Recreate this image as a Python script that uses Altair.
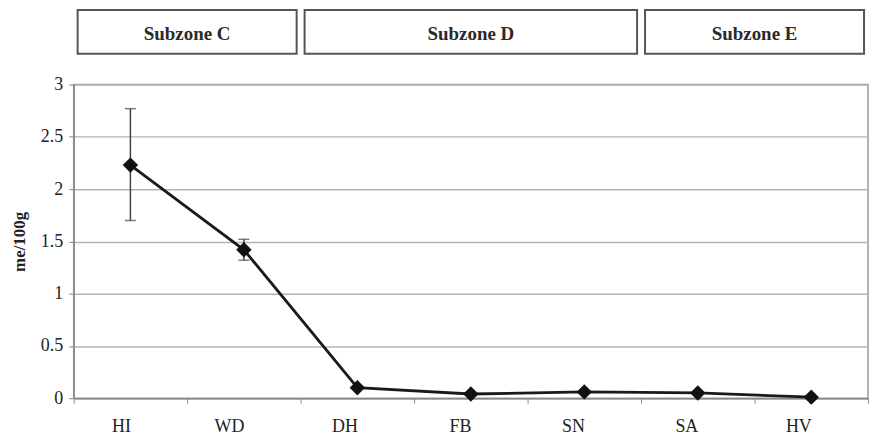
import altair as alt
import pandas as pd

# data
sites = ["HI", "WD", "DH", "FB", "SN", "SA", "HV"]
values = [2.23, 1.42, 0.10, 0.04, 0.06, 0.05, 0.01]
err_low = [1.70, 1.32, None, None, None, None, None]
err_high = [2.77, 1.52, None, None, None, None, None]

subzones = ["Subzone C", "Subzone D", "Subzone E"]
subzone_start = [0, 2, 5]   # index of first site in zone
subzone_end = [2, 5, 7]     # index after last site in zone

y_ticks = [0, 0.5, 1, 1.5, 2, 2.5, 3]

FONT = "Liberation Serif"
W = 798

df = pd.DataFrame({"site": sites, "value": values, "lo": err_low, "hi": err_high})
zones = pd.DataFrame({"zone": subzones, "start": subzone_start, "end": subzone_end})
zones["mid"] = (zones["start"] + zones["end"]) / 2

xq = alt.Scale(domain=[0, 7], nice=False, zero=False)

header_box = alt.Chart(zones).mark_rect(
    fill="white", stroke="#555555", strokeWidth=2, xOffset=4, x2Offset=-4
).encode(
    x=alt.X("start:Q", scale=xq, axis=None),
    x2="end:Q",
    y=alt.value(0),
    y2=alt.value(44),
)
header_text = alt.Chart(zones).mark_text(
    font=FONT, fontSize=19, fontWeight="bold", color="#2a2a2a", baseline="middle"
).encode(
    x=alt.X("mid:Q", scale=xq, axis=None),
    y=alt.value(24),
    text="zone:N",
)
header = alt.layer(header_box, header_text).properties(
    width=W, height=44, view=alt.ViewBackground(stroke=None)
)

xs = alt.X(
    "site:N",
    sort=sites,
    scale=alt.Scale(type="band", paddingInner=0, paddingOuter=0),
    axis=alt.Axis(
        title=None, labelAngle=0, labelFont=FONT, labelFontSize=18, labelColor="#222222",
        labelPadding=23, tickBand="extent", tickSize=5, tickColor="#888888",
        domainColor="#888888", domainWidth=1.5, grid=False,
    ),
)
ys = alt.Y(
    "value:Q",
    scale=alt.Scale(domain=[0, 3], nice=False),
    axis=alt.Axis(
        title="me/100g", titleFont=FONT, titleFontSize=17, titleFontWeight="bold",
        titleColor="#222222", titlePadding=12,
        values=y_ticks, format=".1~f", labelFont=FONT, labelFontSize=18,
        labelColor="#222222", labelPadding=6, tickSize=5, tickColor="#888888",
        domainColor="#888888", domainWidth=1.5, gridColor="#b4b4b4", gridWidth=1.5,
    ),
)

base = alt.Chart(df)
line = base.mark_line(color="#1a1a1a", strokeWidth=2.8).encode(x=xs, y=ys)
pts = base.mark_point(shape="diamond", filled=True, size=240, color="#111111", opacity=1).encode(x=xs, y=ys)
err_df = base.transform_filter("isValid(datum.lo)")
rule = err_df.mark_rule(color="#444444", strokeWidth=1.5).encode(
    x=alt.X("site:N", sort=sites), y="lo:Q", y2="hi:Q"
)
cap_lo = err_df.mark_tick(color="#444444", thickness=1.5, size=11).encode(
    x=alt.X("site:N", sort=sites), y="lo:Q"
)
cap_hi = err_df.mark_tick(color="#444444", thickness=1.5, size=11).encode(
    x=alt.X("site:N", sort=sites), y="hi:Q"
)

main = alt.layer(rule, cap_lo, cap_hi, line, pts).properties(
    width=W, height=315, view=alt.ViewBackground(stroke="#999999", strokeWidth=1.5)
)

chart = alt.vconcat(header, main, spacing=31, bounds="flush").properties(
    autosize=alt.AutoSizeParams(type="pad"),
    padding={"left": 9, "top": 8, "right": 4, "bottom": 2},
    background="white",
)

chart.save("out.html", embed_options={"renderer": "svg", "actions": False})
